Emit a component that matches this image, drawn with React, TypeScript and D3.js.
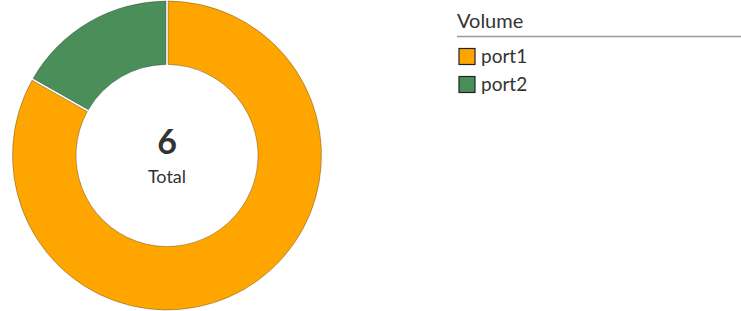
import React from 'react';
import * as d3 from 'd3';

const ports = ['port1', 'port2'];
const volumes = [5, 1];
const colors = ['#ffa500', '#4a8f59'];
const legendTitle = 'Volume';
const totalLabel = 'Total';

export default function App() {
  const width = 741;
  const height = 311;
  const cx = 167;
  const cy = 155.5;
  const outer = 154.5;
  const inner = 91;

  const pie = d3.pie<number>().sort(null).padAngle(0.012)(volumes);
  const arc = d3.arc<d3.PieArcDatum<number>>().innerRadius(inner).outerRadius(outer);
  const total = d3.sum(volumes);

  const font = 'Lato, "Open Sans", sans-serif';

  return (
    <svg
      width={width}
      height={height}
      style={{ position: 'absolute', left: 0, top: 0, fontFamily: font }}
    >
      <g transform={`translate(${cx},${cy})`}>
        {pie.map((d, i) => (
          <path
            key={ports[i]}
            d={arc(d) || ''}
            fill={colors[i]}
            stroke="rgba(0,0,0,0.35)"
            strokeWidth={0.8}
          />
        ))}
        <text y={-2} textAnchor="middle" fontSize={34} fontWeight={700} fill="#333">
          {total}
        </text>
        <text y={27} textAnchor="middle" fontSize={18} fill="#333">
          {totalLabel}
        </text>
      </g>
      <g transform="translate(457,0)">
        <text x={0} y={28} fontSize={20} fill="#333">
          {legendTitle}
        </text>
        <line x1={0} x2={284} y1={36.5} y2={36.5} stroke="#999" strokeWidth={1.5} />
        {ports.map((p, i) => (
          <g key={p} transform={`translate(0,${48.5 + i * 28})`}>
            <rect x={2} y={0} width={16} height={16} fill={colors[i]} stroke="#222" strokeWidth={1.2} />
            <text x={24} y={14.5} fontSize={19} fill="#333">
              {p}
            </text>
          </g>
        ))}
      </g>
    </svg>
  );
}
